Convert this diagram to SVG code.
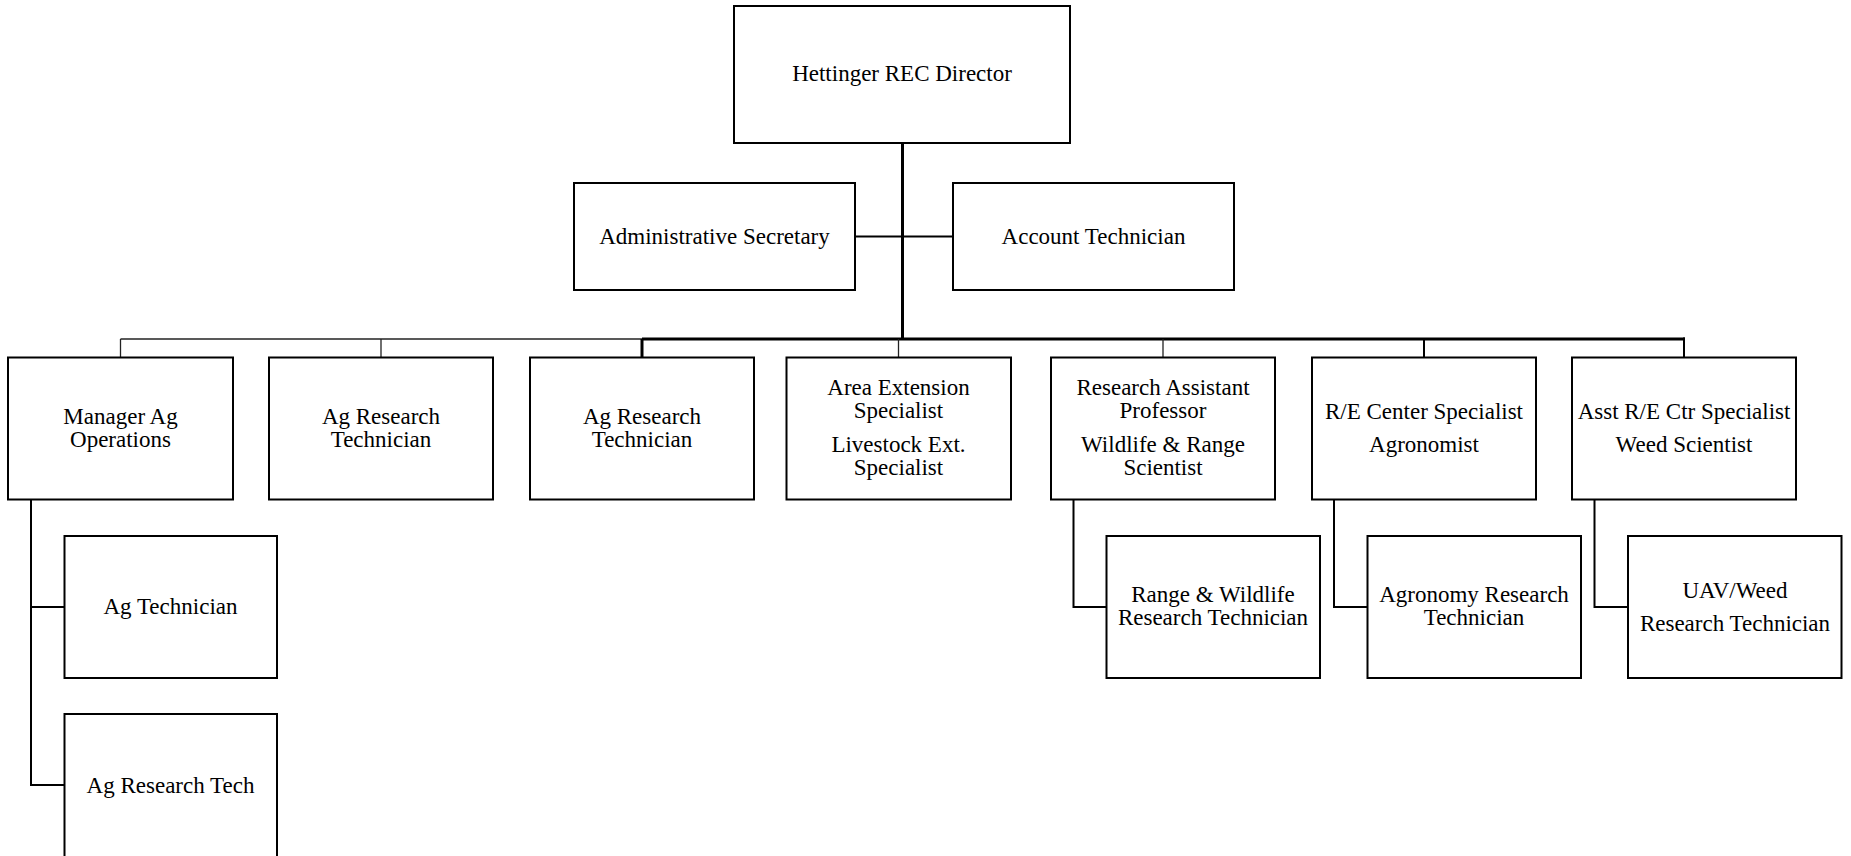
<svg xmlns="http://www.w3.org/2000/svg" width="1851" height="856" viewBox="0 0 1851 856">
<style>
.box{fill:#fff;stroke:#000;stroke-width:2}
.lbl{font-family:"Liberation Serif","Times New Roman",serif;font-size:23px;fill:#000;text-anchor:middle}
.thick{stroke:#000;stroke-width:3;fill:none}
.mid{stroke:#000;stroke-width:2;fill:none}
.thin{stroke:#222;stroke-width:1.3;fill:none}
</style>
<rect width="1851" height="856" fill="#fff"/>
<g id="connectors">
<line class="thick" x1="902.5" y1="143" x2="902.5" y2="339"/>
<line class="mid" x1="855" y1="236.5" x2="953" y2="236.5"/>
<line class="thin" x1="120.5" y1="339" x2="642" y2="339"/>
<line class="thick" x1="642" y1="339" x2="1685" y2="339"/>
<line class="thin" x1="120.5" y1="339" x2="120.5" y2="357"/>
<line class="thin" x1="381" y1="339" x2="381" y2="357"/>
<line class="thick" x1="642" y1="339" x2="642" y2="357"/>
<line class="thin" x1="898.5" y1="339" x2="898.5" y2="357"/>
<line class="thin" x1="1163" y1="339" x2="1163" y2="357"/>
<line class="mid" x1="1424" y1="339" x2="1424" y2="357"/>
<line class="mid" x1="1684" y1="337.5" x2="1684" y2="357"/>
<polyline class="mid" points="31,499 31,785 64.5,785"/>
<line class="mid" x1="31" y1="607" x2="64.5" y2="607"/>
<polyline class="mid" points="1073.5,500 1073.5,607 1106.5,607"/>
<polyline class="mid" points="1334,500 1334,607 1367.5,607"/>
<polyline class="mid" points="1594.5,500 1594.5,607 1628,607"/>
</g>
<g id="director">
<rect class="box" x="734" y="6" width="336" height="137"/>
<text class="lbl" x="902" y="81">Hettinger REC Director</text>
</g>
<g id="admin-secretary">
<rect class="box" x="574" y="183" width="281" height="107"/>
<text class="lbl" x="714.5" y="244">Administrative Secretary</text>
</g>
<g id="account-technician">
<rect class="box" x="953" y="183" width="281" height="107"/>
<text class="lbl" x="1093.5" y="244">Account Technician</text>
</g>
<g id="manager-ag-operations">
<rect class="box" x="8" y="357.5" width="225" height="142"/>
<text class="lbl" x="120.5" y="424">Manager Ag</text>
<text class="lbl" x="120.5" y="447">Operations</text>
</g>
<g id="ag-research-technician-1">
<rect class="box" x="269" y="357.5" width="224" height="142"/>
<text class="lbl" x="381" y="424">Ag Research</text>
<text class="lbl" x="381" y="447">Technician</text>
</g>
<g id="ag-research-technician-2">
<rect class="box" x="530" y="357.5" width="224" height="142"/>
<text class="lbl" x="642" y="424">Ag Research</text>
<text class="lbl" x="642" y="447">Technician</text>
</g>
<g id="area-extension-specialist">
<rect class="box" x="786.5" y="357.5" width="224.5" height="142"/>
<text class="lbl" x="898.5" y="395">Area Extension</text>
<text class="lbl" x="898.5" y="418">Specialist</text>
<text class="lbl" x="898.5" y="452">Livestock Ext.</text>
<text class="lbl" x="898.5" y="475">Specialist</text>
</g>
<g id="research-assistant-professor">
<rect class="box" x="1051" y="357.5" width="224" height="142"/>
<text class="lbl" x="1163" y="395">Research Assistant</text>
<text class="lbl" x="1163" y="418">Professor</text>
<text class="lbl" x="1163" y="452">Wildlife &amp; Range</text>
<text class="lbl" x="1163" y="475">Scientist</text>
</g>
<g id="re-center-specialist">
<rect class="box" x="1312" y="357.5" width="224" height="142"/>
<text class="lbl" x="1424" y="419">R/E Center Specialist</text>
<text class="lbl" x="1424" y="452">Agronomist</text>
</g>
<g id="asst-re-ctr-specialist">
<rect class="box" x="1572" y="357.5" width="224" height="142"/>
<text class="lbl" x="1684" y="419">Asst R/E Ctr Specialist</text>
<text class="lbl" x="1684" y="452">Weed Scientist</text>
</g>
<g id="ag-technician">
<rect class="box" x="64.5" y="536" width="212.5" height="142"/>
<text class="lbl" x="170.5" y="614">Ag Technician</text>
</g>
<g id="ag-research-tech">
<rect class="box" x="64.5" y="714" width="212.5" height="160"/>
<text class="lbl" x="170.5" y="793">Ag Research Tech</text>
</g>
<g id="range-wildlife-research-technician">
<rect class="box" x="1106.5" y="536" width="213.5" height="142"/>
<text class="lbl" x="1213" y="602">Range &amp; Wildlife</text>
<text class="lbl" x="1213" y="625">Research Technician</text>
</g>
<g id="agronomy-research-technician">
<rect class="box" x="1367.5" y="536" width="213.5" height="142"/>
<text class="lbl" x="1474" y="602">Agronomy Research</text>
<text class="lbl" x="1474" y="625">Technician</text>
</g>
<g id="uav-weed-research-technician">
<rect class="box" x="1628" y="536" width="213.5" height="142"/>
<text class="lbl" x="1735" y="598">UAV/Weed</text>
<text class="lbl" x="1735" y="631">Research Technician</text>
</g>
</svg>
